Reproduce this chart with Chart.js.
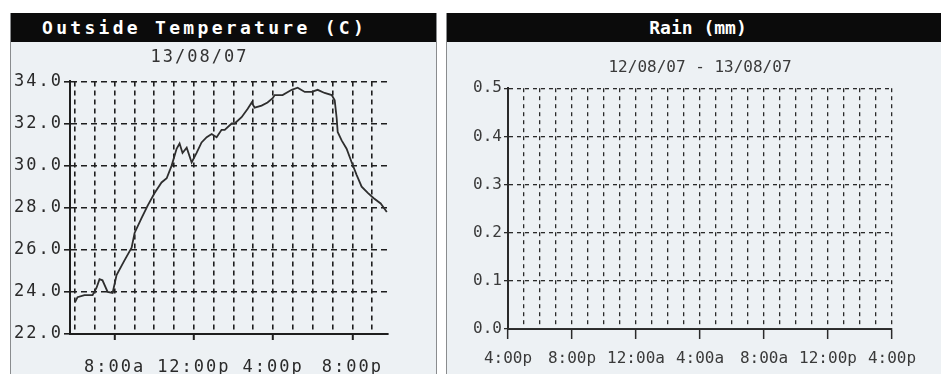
<!DOCTYPE html>
<html>
<head>
<meta charset="utf-8">
<script src="https://cdn.jsdelivr.net/npm/chart.js@4"></script>
<style>
  body { margin: 0; width: 941px; height: 374px; background: #fff; overflow: hidden; position: relative; }
  .panel { position: absolute; top: 13px; height: 400px; background: #edf1f4; border-left: 1px solid #8a8c8e; border-right: 1px solid #8a8c8e; }
  .head { height: 29px; background: #0b0b0b; color: #fff; font: bold 18px "DejaVu Sans Mono", monospace; line-height: 30px; white-space: nowrap; }
  .panel canvas { position: absolute; top: 29px; left: 0; }
  #leftPanel { left: 10px; width: 425px; }
  #leftPanel .head { padding-left: 31px; letter-spacing: 3.3px; }
  #rightPanel { left: 446px; width: 500px; }
  #rightPanel .head { text-align: center; padding-left: 2px; }
</style>
</head>
<body>
<div class="panel" id="leftPanel">
  <div class="head">Outside Temperature (C)</div>
  <canvas id="tempChart" width="425" height="332"></canvas>
</div>
<div class="panel" id="rightPanel">
  <div class="head">Rain (mm)</div>
  <canvas id="rainChart" width="494" height="332"></canvas>
</div>
<script>
// Outside temperature, hours of 13/08/07
let tempHours = [6.0, 6.13, 6.48, 6.89, 7.09, 7.24, 7.39, 7.65, 7.9, 8.1,
  8.5, 8.86, 9.01, 9.36, 9.67, 10.02, 10.37, 10.63, 10.88, 11.13,
  11.28, 11.43, 11.64, 11.89, 12.14, 12.39, 12.65, 12.9, 13.15, 13.4,
  13.56, 13.91, 14.06, 14.41, 14.72, 14.92, 15.07, 15.42, 15.72, 15.98,
  16.08, 16.48, 16.94, 17.24, 17.6, 17.95, 18.25, 18.6, 18.96, 19.11,
  19.21, 19.26, 19.46, 19.71, 19.97, 20.22, 20.47, 20.78, 21.08, 21.43, 21.74];
let tempValues = [23.5, 23.75, 23.85, 23.85, 24.2, 24.6, 24.55, 24.0, 23.95, 24.8,
  25.5, 26.1, 26.8, 27.5, 28.1, 28.7, 29.2, 29.4, 30.0, 30.8,
  31.05, 30.6, 30.85, 30.15, 30.6, 31.1, 31.35, 31.5, 31.35, 31.7,
  31.7, 32.0, 32.0, 32.3, 32.7, 33.0, 32.75, 32.85, 33.0, 33.2,
  33.35, 33.35, 33.6, 33.7, 33.5, 33.5, 33.6, 33.45, 33.35, 33.1,
  32.25, 31.6, 31.2, 30.8, 30.15, 29.55, 29.0, 28.7, 28.45, 28.2, 27.8];
let tempGridHours = [6, 7, 8, 9, 10, 11, 12, 13, 14, 15, 16, 17, 18, 19, 20, 21];
let tempTickHours = [8, 12, 16, 20];
let tempTickLabels = ['8:00a', '12:00p', '4:00p', '8:00p'];
let tempYTicks = [22, 24, 26, 28, 30, 32, 34];

// Rain, 4:00p 12/08/07 (hour 16) to 4:00p 13/08/07 (hour 40)
let rainHours = [16, 20, 24, 28, 32, 36, 40];
let rainValues = [0, 0, 0, 0, 0, 0, 0];
let rainGridHours = [16, 17, 18, 19, 20, 21, 22, 23, 24, 25, 26, 27, 28, 29, 30, 31, 32, 33, 34, 35, 36, 37, 38, 39, 40];
let rainTickHours = [16, 20, 24, 28, 32, 36, 40];
let rainTickLabels = ['4:00p', '8:00p', '12:00a', '4:00a', '8:00a', '12:00p', '4:00p'];
let rainYTicks = [0, 0.1, 0.2, 0.3, 0.4, 0.5];

function toPoints(xs, ys){
  let pts = [];
  for (let i = 0; i < xs.length; i++) {
    pts.push({ x: xs[i], y: ys[i] });
  }
  return pts;
}

function labelFor(hours, labels, v){
  let idx = hours.indexOf(v);
  return idx >= 0 ? labels[idx] : '';
}

// pixel font on the temperature panel is wide, so spread the letters
const spacing = {
  id: 'spacing',
  beforeLayout(chart){ chart.ctx.letterSpacing = '2px'; },
  beforeDraw(chart){ chart.ctx.letterSpacing = '2px'; }
};

new Chart(document.getElementById('tempChart'), {
  type: 'line',
  data: {
    datasets: [{
      data: toPoints(tempHours, tempValues),
      borderColor: '#2e2e2e',
      borderWidth: 1.8,
      pointRadius: 0,
      tension: 0
    }]
  },
  plugins: [spacing],
  options: {
    responsive: false,
    animation: false,
    layout: { padding: { left: 0, right: 48, top: 0, bottom: 0 } },
    plugins: {
      legend: { display: false },
      tooltip: { enabled: false },
      title: {
        display: true,
        text: '13/08/07',
        color: '#333',
        font: { family: 'DejaVu Sans Mono', size: 17, weight: 'normal' },
        padding: { top: 5, bottom: 14 }
      }
    },
    scales: {
      x: {
        type: 'linear',
        min: 5.75,
        max: 21.8,
        afterBuildTicks: s => { s.ticks = tempGridHours.map(v => ({ value: v })); },
        afterFit: s => { s.height = 40; },
        ticks: {
          autoSkip: false,
          maxRotation: 0,
          padding: 17,
          color: '#2a2a2a',
          font: { family: 'DejaVu Sans Mono', size: 17 },
          callback: v => labelFor(tempTickHours, tempTickLabels, v)
        },
        grid: {
          color: '#1e1e1e',
          lineWidth: 1.6,
          tickLength: 6,
          tickWidth: 2,
          tickColor: c => (c.tick && tempTickHours.includes(c.tick.value)) ? '#1e1e1e' : 'rgba(0,0,0,0)'
        },
        border: { color: '#1e1e1e', width: 2, dash: [5, 4] }
      },
      y: {
        min: 22,
        max: 34,
        afterBuildTicks: s => { s.ticks = tempYTicks.map(v => ({ value: v })); },
        afterFit: s => { s.width = 59; },
        ticks: {
          padding: 1,
          color: '#2a2a2a',
          font: { family: 'DejaVu Sans Mono', size: 17 },
          callback: v => v.toFixed(1)
        },
        grid: { color: '#1e1e1e', lineWidth: 1.6, tickLength: 6, tickColor: '#1e1e1e' },
        border: { color: '#1e1e1e', width: 2, dash: [6, 4] }
      }
    }
  }
});

new Chart(document.getElementById('rainChart'), {
  type: 'line',
  data: {
    datasets: [{
      data: toPoints(rainHours, rainValues),
      borderColor: '#333',
      borderWidth: 1.5,
      pointRadius: 0,
      tension: 0
    }]
  },
  options: {
    responsive: false,
    animation: false,
    layout: { padding: { left: 0, right: 49, top: 0, bottom: 0 } },
    plugins: {
      legend: { display: false },
      tooltip: { enabled: false },
      title: {
        display: true,
        fullSize: false,
        text: '12/08/07 - 13/08/07',
        color: '#3a3a3a',
        font: { family: 'DejaVu Sans Mono', size: 16, weight: 'normal' },
        padding: { top: 16, bottom: 11 }
      }
    },
    scales: {
      x: {
        type: 'linear',
        min: 16,
        max: 40,
        afterBuildTicks: s => { s.ticks = rainGridHours.map(v => ({ value: v })); },
        afterFit: s => { s.height = 45; },
        ticks: {
          autoSkip: false,
          maxRotation: 0,
          padding: 10,
          color: '#3a3a3a',
          font: { family: 'DejaVu Sans Mono', size: 16 },
          callback: v => labelFor(rainTickHours, rainTickLabels, v)
        },
        grid: {
          color: '#2a2a2a',
          lineWidth: 1.3,
          tickLength: 10,
          tickWidth: 1.5,
          tickColor: c => (c.tick && rainTickHours.includes(c.tick.value)) ? '#2a2a2a' : 'rgba(0,0,0,0)'
        },
        border: { color: '#2a2a2a', width: 2, dash: [4, 4] }
      },
      y: {
        min: 0,
        max: 0.5,
        afterBuildTicks: s => { s.ticks = rainYTicks.map(v => ({ value: v })); },
        afterFit: s => { s.width = 61; },
        ticks: {
          padding: 2,
          color: '#3a3a3a',
          font: { family: 'DejaVu Sans Mono', size: 16 },
          callback: v => v.toFixed(1)
        },
        grid: { color: '#2a2a2a', lineWidth: 1.3, tickLength: 4, tickColor: '#2a2a2a' },
        border: { color: '#2a2a2a', width: 2, dash: [4, 4] }
      }
    }
  }
});
</script>
</body>
</html>
